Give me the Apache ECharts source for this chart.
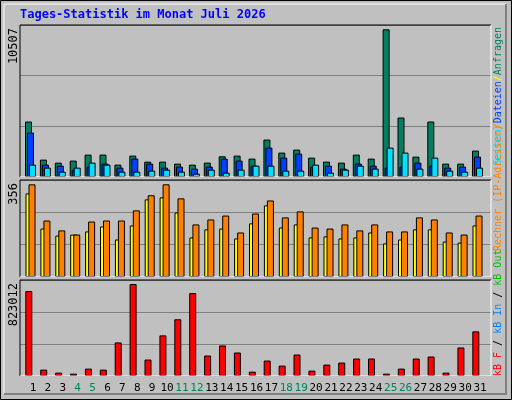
<!DOCTYPE html>
<html><head><meta charset="utf-8">
<script src="https://cdn.jsdelivr.net/npm/echarts@6/dist/echarts.min.js"></script>
<style>html,body{margin:0;padding:0;background:#fff}#c{width:512px;height:400px}</style>
</head><body><div id="c"></div>
<script>
const days = ['1','2','3','4','5','6','7','8','9','10','11','12','13','14','15','16','17','18','19','20','21','22','23','24','25','26','27','28','29','30','31'];
const weekend = ['4','5','11','12','18','19','25','26'];
const hits = [3946,1236,1022,1165,1593,1593,880,1521,1093,1093,951,880,1022,1474,1521,1308,2662,1736,1949,1379,1093,1022,1593,1308,10507,4231,1450,3946,951,951,1878];
const files = [3162,880,808,523,737,951,665,1308,951,665,737,594,737,1308,1165,808,2092,1379,1664,737,808,594,951,808,665,737,1022,808,665,737,1450];
const pages = [880,665,380,665,1022,880,380,380,451,523,380,238,523,309,523,808,808,451,451,880,309,523,808,594,2092,1736,594,1379,451,380,665];
const visits = [321,186,159,163,175,194,144,198,298,306,248,152,183,186,148,206,275,190,202,152,156,148,152,171,129,144,183,183,136,132,198];
const sites = [356,217,179,163,213,217,217,256,314,356,302,202,221,236,171,244,294,229,252,190,186,202,179,202,175,175,229,221,171,163,236];
const kbytes = [759936,57070,30037,21026,66081,57070,300370,823012,147181,363448,507625,741914,183226,273337,210259,39048,138170,93115,192237,48059,102126,120148,156192,156192,21026,66081,156192,174215,30037,255315,399492];
const title = 'Tages-Statistik im Monat Juli 2026';

const pts = a => a.map((v,i)=>[i+1,v]);
const maxTop = Math.max(...hits), maxMid = Math.max(...sites), maxBot = Math.max(...kbytes);
const MT = maxTop*151.7/147.4, MM = maxMid*96.7/92.4, MB = maxBot*95.4/91.4;
const grids = [
 {left:20,top:25,width:471,height:152},
 {left:20,top:180,width:471,height:97},
 {left:20,top:280,width:471,height:96},
 {left:25.5,top:376,width:462,height:1}
];
function yax(i,M){return {gridIndex:i,type:'value',min:0,max:M,interval:M/3,axisLabel:{show:false},axisTick:{show:false},axisLine:{show:false},splitLine:{lineStyle:{color:'#808080',width:1}}};}
function xax(i,a){return {gridIndex:i,type:'value',min:a,max:a+31.61,show:false};}
const bs = c => ({color:c,borderColor:'#000',borderWidth:1});
const chart = echarts.init(document.getElementById('c'));
const mono = 'DejaVu Sans Mono';
function vtext(x,y,align,parts){
  return {type:'text',x:x,y:y,rotation:Math.PI/2,silent:true,style:{text:parts.map((p,i)=>'{s'+i+'|'+p[0]+'}').join(''),rich:Object.fromEntries(parts.map((p,i)=>['s'+i,{fill:p[1],font:'10px '+mono}])),align:align,verticalAlign:'middle'}};
}
function panel(x,y,w,h){return [
  {type:'polyline',shape:{points:[[x,y+h],[x,y],[x+w,y]]},style:{stroke:'#000',lineWidth:1,fill:null},silent:true,z:10},
  {type:'polyline',shape:{points:[[x+w,y],[x+w,y+h],[x,y+h]]},style:{stroke:'#fff',lineWidth:1,fill:null},silent:true,z:10}];}
chart.setOption({
  animation:false,
  backgroundColor:'#c0c0c0',
  grid:grids,
  xAxis:[xax(0,0.295),xax(1,0.295),xax(2,0.409),
    {gridIndex:3,type:'category',data:days,axisLine:{show:false},axisTick:{show:false},
     axisLabel:{interval:0,margin:6,fontFamily:mono,fontSize:11,color:(v)=>weekend.includes(v)?'#008060':'#000'}}],
  yAxis:[yax(0,MT),yax(1,MM),yax(2,MB),{gridIndex:3,type:'value',show:false}],
  series:[
    {type:'bar',xAxisIndex:0,yAxisIndex:0,data:pts(hits),barWidth:7,barGap:'-71.4%',itemStyle:bs('#008060')},
    {type:'bar',xAxisIndex:0,yAxisIndex:0,data:pts(files),barWidth:7,barGap:'-71.4%',itemStyle:bs('#0040ff')},
    {type:'bar',xAxisIndex:0,yAxisIndex:0,data:pts(pages),barWidth:7,barGap:'-71.4%',itemStyle:bs('#00e0ff')},
    {type:'bar',xAxisIndex:1,yAxisIndex:1,data:pts(visits),barWidth:7,barGap:'-57%',itemStyle:bs('#ffff00')},
    {type:'bar',xAxisIndex:1,yAxisIndex:1,data:pts(sites),barWidth:7,barGap:'-57%',itemStyle:bs('#ff8000')},
    {type:'bar',xAxisIndex:2,yAxisIndex:2,data:pts(kbytes),barWidth:7,itemStyle:bs('#ff0000')},
    {type:'line',xAxisIndex:3,yAxisIndex:3,data:[],silent:true}
  ],
  graphic:[
    {type:'rect',shape:{x:0.5,y:0.5,width:511,height:399},style:{stroke:'#000',lineWidth:1,fill:null},silent:true},
    {type:'polyline',shape:{points:[[4,394],[4,4],[506,4]]},style:{stroke:'#fff',lineWidth:1,fill:null},silent:true},
    {type:'polyline',shape:{points:[[506,4],[506,394],[4,394]]},style:{stroke:'#808080',lineWidth:2,fill:null},silent:true},
    {type:'text',x:20,y:15,style:{text:title,fill:'#0000ff',font:'bold 12px '+mono,verticalAlign:'middle'},silent:true},
    ...panel(20,25,471,152),...panel(20,180,471,97),...panel(20,280,471,96),
    {type:'text',x:14,y:28,rotation:Math.PI/2,style:{text:String(maxTop),fill:'#000',font:'12px '+mono,align:'right',verticalAlign:'middle'},silent:true},
    {type:'text',x:14,y:183,rotation:Math.PI/2,style:{text:String(maxMid),fill:'#000',font:'12px '+mono,align:'right',verticalAlign:'middle'},silent:true},
    {type:'text',x:14,y:283,rotation:Math.PI/2,style:{text:String(maxBot),fill:'#000',font:'12px '+mono,align:'right',verticalAlign:'middle'},silent:true},
    vtext(498,27,'right',[['Seiten','#00e0ff'],['/','#ff8000'],['Dateien','#0040ff'],['/','#ffff00'],['Anfragen','#008060']]),
    vtext(498,251,'left',[['Rechner (IP-Adressen)','#ff8000']]),
    vtext(498,376,'left',[['kB F','#ff0000'],[' / ','#000'],['kB In','#0080ff'],[' / ','#000'],['kB Out','#00c000']])
  ]
});
</script></body></html>
